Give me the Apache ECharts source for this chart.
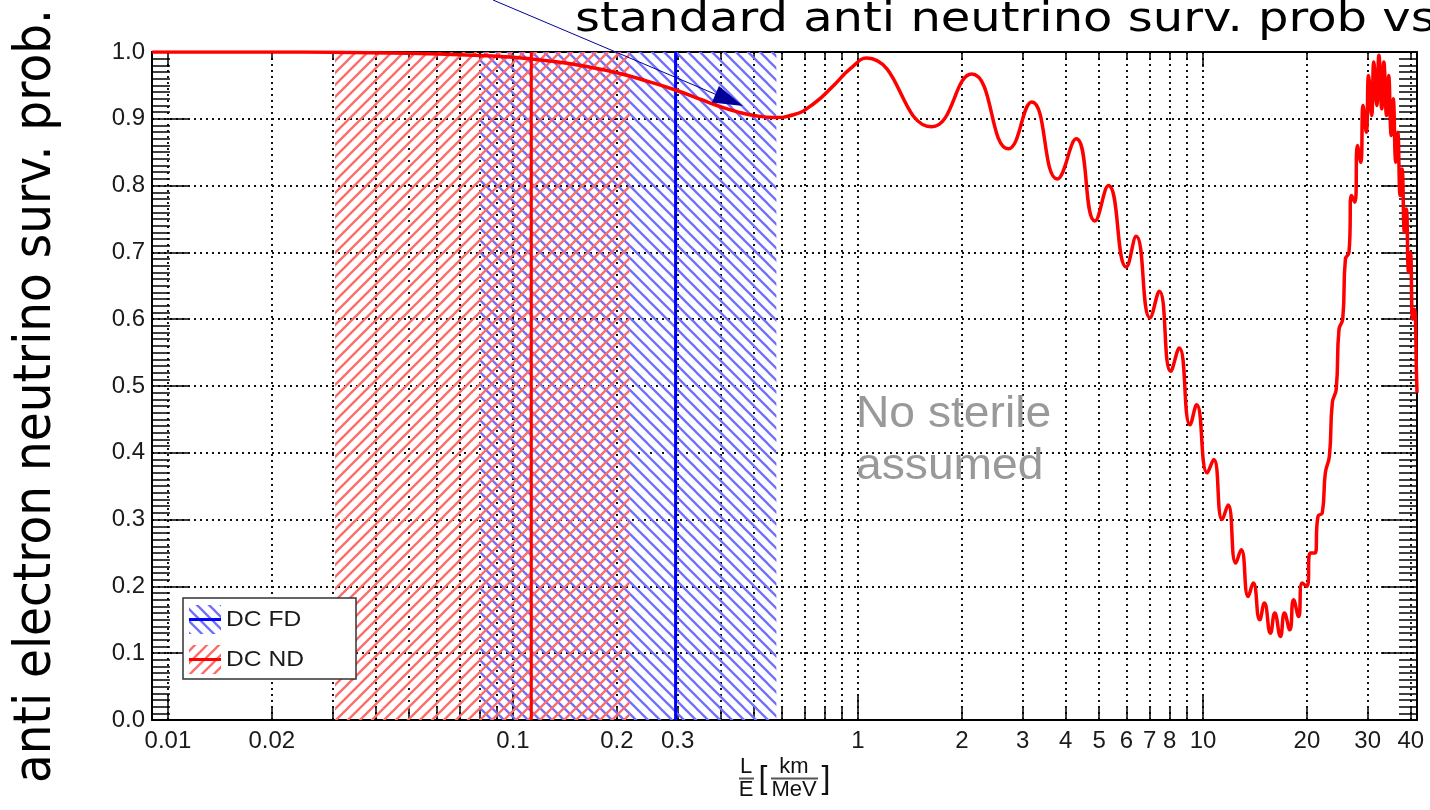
<!DOCTYPE html>
<html><head><meta charset="utf-8">
<script src="https://cdn.jsdelivr.net/npm/echarts@6/dist/echarts.min.js"></script>
<style>html,body{margin:0;padding:0;background:#fff}#c{width:1430px;height:810px}</style>
</head><body><div id="c"></div>
<script>
// ---------------- data ----------------
// L/E in km/MeV and survival probability
const curveLE = [0.009,0.02,0.03,0.05,0.07,0.1,0.13,0.16,0.2,0.25,0.3,0.35,0.4,0.45,0.5,0.57,0.65,0.75,0.85,0.95,1.06,
  1.636,2.136,2.728,3.19,3.78,4.29,4.86,5.32,5.99,6.40,7.02,7.47,8.06,8.53,9.17,9.58,
  10.28,10.74,11.36,11.82,12.44,12.9,13.52,13.98,14.6,15.06,15.68,16.14,16.76,17.22,17.84,18.3,18.92,19.38,
  20.0,20.46,21.08,21.54,22.16,22.62,23.24,23.7,24.32,24.78,25.4,25.86,26.48,26.94,27.56,28.02,28.64,29.1,
  29.72,30.18,30.8,31.26,31.88,32.34,32.96,33.42,34.04,34.5,35.12,35.58,36.2,36.66,37.28,37.74,38.36,38.82,
  39.44,39.9,40.52,40.98,41.6,41.7];
const curveP = [1.0,1.0,0.9995,0.998,0.996,0.992,0.986,0.979,0.969,0.955,0.942,0.929,0.918,0.910,0.905,0.902,0.906,0.924,0.950,0.975,0.991,
  0.888,0.967,0.855,0.925,0.81,0.87,0.747,0.80,0.678,0.724,0.602,0.642,0.522,0.557,0.442,0.472,
  0.37,0.39,0.30,0.322,0.235,0.255,0.185,0.205,0.15,0.175,0.13,0.16,0.125,0.16,0.135,0.18,0.155,0.205,
  0.20,0.25,0.25,0.305,0.31,0.37,0.395,0.475,0.495,0.585,0.60,0.69,0.70,0.785,0.775,0.86,0.835,0.92,
  0.88,0.965,0.905,0.985,0.92,0.995,0.915,0.985,0.905,0.965,0.875,0.93,0.835,0.88,0.785,0.825,0.73,0.765,
  0.67,0.70,0.60,0.615,0.51,0.49];
const fdCenter = 0.296;            // DC FD line
const fdRange = [0.080, 0.58];     // DC FD hatched band
const ndCenter = 0.113;            // DC ND line
const ndRange = [0.0305, 0.218];   // DC ND hatched band
const xTickValues = [0.01,0.02,0.03,0.04,0.05,0.06,0.07,0.08,0.09,0.1,0.2,0.3,0.4,0.5,0.6,0.7,0.8,0.9,1,2,3,4,5,6,7,8,9,10,20,30,40];
const xLabelValues = [0.01,0.02,0.1,0.2,0.3,1,2,3,4,5,6,7,8,10,20,30,40];
const xDecadeValues = [0.01,0.1,1,10];
const X_MIN = 0.00899, X_MAX = 41.7;
const Y_MIN = 0, Y_MAX = 1, Y_STEP = 0.1;

// ---------------- helpers ----------------
const lg = v => Math.log10(v);
const fmtX = v => String(Number(Math.pow(10, v).toPrecision(3)));
function hatch(color, dir) {
  const S = 12, c = document.createElement('canvas');
  c.width = S; c.height = S;
  const g = c.getContext('2d');
  g.strokeStyle = color; g.lineWidth = 2.3;
  g.beginPath();
  if (dir > 0) {            // '/'
    for (const k of [0, S, 2 * S]) { g.moveTo(-1, k + 1); g.lineTo(S + 1, k - S - 1); }
  } else {                  // '\'
    for (const k of [-S, 0, S]) { g.moveTo(-1, -1 - k); g.lineTo(S + 1, S + 1 - k); }
  }
  g.stroke();
  return { image: c, repeat: 'repeat' };
}
const redHatch = hatch('#ff6b6b', 1);
const blueHatch = hatch('#7070ff', -1);

const dotted = { color: '#111', width: 2, type: [2, 4] };
const tickStyle = { color: '#000', width: 1.5 };
const frame = { show: true, onZero: false, lineStyle: { color: '#000', width: 2 } };
const noLine = { show: false, onZero: false };

const xBase = { type: 'value', min: lg(X_MIN), max: lg(X_MAX) };
const yBase = { type: 'value', min: Y_MIN, max: Y_MAX, interval: Y_STEP };
const lblFont = { fontSize: 24, fontFamily: 'Liberation Sans', color: '#1a1a1a' };

const chart = echarts.init(document.getElementById('c'));
chart.setOption({
  animation: false,
  backgroundColor: '#fff',
  grid: { left: 152, right: 13, top: 52, bottom: 90, show: false },
  xAxis: [
    Object.assign({}, xBase, {
      position: 'bottom', axisLine: frame,
      axisTick: { show: true, inside: true, length: 12, customValues: xTickValues.map(lg), lineStyle: tickStyle },
      axisLabel: Object.assign({ show: true, customValues: xLabelValues.map(lg), formatter: fmtX, margin: 9, hideOverlap: false }, lblFont),
      splitLine: { show: true, customValues: xTickValues.map(lg), lineStyle: dotted }
    }),
    Object.assign({}, xBase, {
      position: 'bottom', axisLine: noLine,
      axisTick: { show: true, inside: true, length: 24, customValues: xDecadeValues.map(lg), lineStyle: tickStyle },
      axisLabel: { show: false }, splitLine: { show: false }
    }),
    Object.assign({}, xBase, {
      position: 'top', axisLine: frame,
      axisTick: { show: true, inside: true, length: 8, customValues: xTickValues.map(lg), lineStyle: tickStyle },
      axisLabel: { show: false }, splitLine: { show: false }
    }),
    Object.assign({}, xBase, {
      position: 'top', axisLine: noLine,
      axisTick: { show: true, inside: true, length: 15, customValues: xDecadeValues.map(lg), lineStyle: tickStyle },
      axisLabel: { show: false }, splitLine: { show: false }
    })
  ],
  yAxis: [
    Object.assign({}, yBase, {
      position: 'left', axisLine: frame,
      axisTick: { show: true, inside: true, length: 36, lineStyle: tickStyle },
      minorTick: { show: true, splitNumber: 10, length: 18, lineStyle: tickStyle },
      axisLabel: Object.assign({ formatter: v => v.toFixed(1), margin: 7 }, lblFont),
      splitLine: { show: true, lineStyle: dotted }
    }),
    Object.assign({}, yBase, {
      position: 'right', axisLine: frame,
      axisTick: { show: true, inside: true, length: 36, lineStyle: tickStyle },
      minorTick: { show: true, splitNumber: 10, length: 18, lineStyle: tickStyle },
      axisLabel: { show: false }, splitLine: { show: false }
    })
  ],
  series: [
    {
      name: 'DC FD', type: 'line', xAxisIndex: 0, yAxisIndex: 0, symbol: 'none', z: 2,
      data: [[lg(fdCenter), Y_MIN], [lg(fdCenter), Y_MAX]],
      lineStyle: { color: '#0000ff', width: 3 },
      markArea: { silent: true, itemStyle: { color: blueHatch, opacity: 1, borderWidth: 0 },
        data: [[{ xAxis: lg(fdRange[0]) }, { xAxis: lg(fdRange[1]) }]] }
    },
    {
      name: 'DC ND', type: 'line', xAxisIndex: 0, yAxisIndex: 0, symbol: 'none', z: 2,
      data: [[lg(ndCenter), Y_MIN], [lg(ndCenter), Y_MAX]],
      lineStyle: { color: '#ff0000', width: 3 },
      markArea: { silent: true, itemStyle: { color: redHatch, opacity: 1, borderWidth: 0 },
        data: [[{ xAxis: lg(ndRange[0]) }, { xAxis: lg(ndRange[1]) }]] }
    },
    {
      name: 'Pee', type: 'line', xAxisIndex: 0, yAxisIndex: 0, symbol: 'none', z: 4, smooth: 0.5,
      data: curveLE.map((x, i) => [lg(x), curveP[i]]),
      lineStyle: { color: '#ff0000', width: 3.5 }
    }
  ],
  graphic: [
    // title (clipped by the page edge like the reference)
    { type: 'text', x: 575, y: 21, scaleX: 1.2, z: 10,
      style: { text: 'standard anti neutrino surv. prob vs', fontFamily: 'DejaVu Sans', fontSize: 40,
        fill: '#000', align: 'left', verticalAlign: 'middle' } },
    // y axis title
    { type: 'text', x: 37, y: 396, rotation: Math.PI / 2, scaleY: 1.1, z: 10,
      style: { text: 'anti electron neutrino surv. prob.', fontFamily: 'DejaVu Sans', fontSize: 47,
        fill: '#000', align: 'center', verticalAlign: 'middle' } },
    // x axis title  L/E [km/MeV]
    { type: 'text', x: 746, y: 767, z: 10, style: { text: 'L', fontFamily: 'Liberation Sans', fontSize: 22, fill: '#111', align: 'center', verticalAlign: 'middle' } },
    { type: 'line', z: 10, shape: { x1: 739, y1: 778.5, x2: 754, y2: 778.5 }, style: { stroke: '#555', lineWidth: 2 } },
    { type: 'text', x: 746, y: 790, z: 10, style: { text: 'E', fontFamily: 'Liberation Sans', fontSize: 22, fill: '#111', align: 'center', verticalAlign: 'middle' } },
    { type: 'text', x: 763, y: 779, z: 10, style: { text: '[', fontFamily: 'Liberation Sans', fontSize: 32, fill: '#111', align: 'center', verticalAlign: 'middle' } },
    { type: 'text', x: 794, y: 767, z: 10, style: { text: 'km', fontFamily: 'Liberation Sans', fontSize: 22, fill: '#111', align: 'center', verticalAlign: 'middle' } },
    { type: 'line', z: 10, shape: { x1: 771, y1: 778.5, x2: 818, y2: 778.5 }, style: { stroke: '#555', lineWidth: 2 } },
    { type: 'text', x: 794, y: 790, z: 10, style: { text: 'MeV', fontFamily: 'Liberation Sans', fontSize: 22, fill: '#111', align: 'center', verticalAlign: 'middle' } },
    { type: 'text', x: 826, y: 779, z: 10, style: { text: ']', fontFamily: 'Liberation Sans', fontSize: 32, fill: '#111', align: 'center', verticalAlign: 'middle' } },
    // annotation
    { type: 'text', x: 856, y: 415, scaleX: 1.05, z: 10, style: { text: 'No sterile', fontFamily: 'Liberation Sans', fontSize: 44, fill: '#999', align: 'left', verticalAlign: 'middle' } },
    { type: 'text', x: 856, y: 467, scaleX: 1.05, z: 10, style: { text: 'assumed', fontFamily: 'Liberation Sans', fontSize: 44, fill: '#999', align: 'left', verticalAlign: 'middle' } },
    // arrow
    { type: 'line', z: 10, shape: { x1: 493, y1: 0, x2: 716, y2: 94.5 }, style: { stroke: '#00009a', lineWidth: 1 } },
    { type: 'polygon', z: 10, shape: { points: [[743, 106], [711.9, 102.6], [718.9, 86.0]] }, style: { fill: '#00009a' } },
    // legend
    { type: 'rect', z: 10, shape: { x: 183, y: 598, width: 173, height: 81 }, style: { fill: '#fff', stroke: '#333', lineWidth: 1.5 } },
    { type: 'rect', z: 11, shape: { x: 189, y: 605, width: 32, height: 29 }, style: { fill: blueHatch } },
    { type: 'line', z: 12, shape: { x1: 189, y1: 619.5, x2: 221, y2: 619.5 }, style: { stroke: '#0000ff', lineWidth: 3 } },
    { type: 'text', x: 226, y: 619.5, scaleX: 1.12, z: 12, style: { text: 'DC FD', fontFamily: 'Liberation Sans', fontSize: 22, fill: '#1a1a1a', align: 'left', verticalAlign: 'middle' } },
    { type: 'rect', z: 11, shape: { x: 189, y: 645, width: 32, height: 29 }, style: { fill: redHatch } },
    { type: 'line', z: 12, shape: { x1: 189, y1: 659.5, x2: 221, y2: 659.5 }, style: { stroke: '#ff0000', lineWidth: 3 } },
    { type: 'text', x: 226, y: 659.5, scaleX: 1.12, z: 12, style: { text: 'DC ND', fontFamily: 'Liberation Sans', fontSize: 22, fill: '#1a1a1a', align: 'left', verticalAlign: 'middle' } }
  ]
});
</script>
</body></html>
